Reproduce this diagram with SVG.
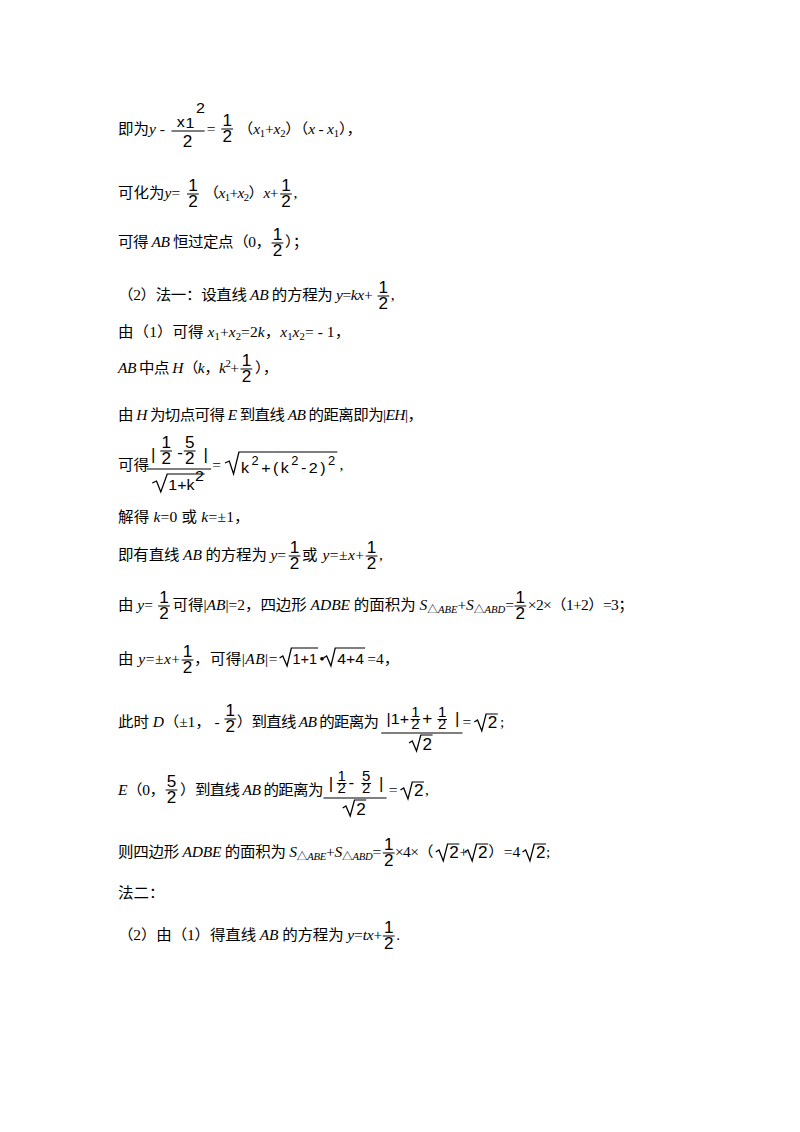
<svg xmlns="http://www.w3.org/2000/svg" xmlns:xlink="http://www.w3.org/1999/xlink" width="800" height="1132" viewBox="0 0 800 1132">
<style>
text{font-family:"Liberation Serif","Noto Sans CJK SC",serif;font-size:14.5px;fill:#000}
.i{font-style:italic}
.f{font-family:"Liberation Sans",sans-serif;font-size:16px;text-anchor:middle}
.fs{font-family:"Liberation Sans",sans-serif;font-size:14px;text-anchor:middle}
.s{font-size:10px}
.m{font-family:"Liberation Sans",sans-serif;font-size:15px}
.b{stroke:#000;stroke-width:1}
.r{stroke:#000;stroke-width:1.2;fill:none}
</style>
<defs>
<g id="h"><text class="f" x="0" y="-7">1</text><line class="b" x1="-5.5" y1="-4" x2="5.5" y2="-4"/><text class="f" x="0" y="9">2</text></g>
<g id="h5"><text class="f" x="0" y="-7">5</text><line class="b" x1="-5.5" y1="-4" x2="5.5" y2="-4"/><text class="f" x="0" y="9">2</text></g>
<g id="hs"><text class="fs" x="0" y="-6">1</text><line class="b" x1="-4.5" y1="-3.5" x2="4.5" y2="-3.5"/><text class="fs" x="0" y="6">2</text></g>
<g id="hs5"><text class="fs" x="0" y="-6">5</text><line class="b" x1="-4.5" y1="-3.5" x2="4.5" y2="-3.5"/><text class="fs" x="0" y="6">2</text></g>
</defs>
<rect width="800" height="1132" fill="#fff"/>
<g transform="matrix(1.07,0,0,1,-31.8,0)">
<g id="line1">
<text x="140" y="134">即为<tspan class="i">y</tspan> - </text>
<text class="m" x="195" y="127">x</text><text class="m" x="203" y="128" font-size="13">1</text><text class="m" x="213" y="113" font-size="12">2</text>
<line class="b" x1="190" y1="131" x2="221" y2="131"/>
<text class="f" x="205" y="147">2</text>
<text x="223" y="134">=</text>
<use xlink:href="#h" x="242" y="133"/>
<text x="252" y="134" textLength="116" lengthAdjust="spacing">（<tspan class="i">x</tspan><tspan class="s" dy="3">1</tspan><tspan dy="-3">+</tspan><tspan class="i">x</tspan><tspan class="s" dy="3">2</tspan><tspan dy="-3">）（</tspan><tspan class="i">x</tspan> - <tspan class="i">x</tspan><tspan class="s" dy="3">1</tspan><tspan dy="-3">），</tspan></text>
</g>

<g id="line2">
<text x="140" y="198">可化为<tspan class="i">y</tspan>=</text>
<use xlink:href="#h" x="210" y="198"/>
<text x="220" y="198" textLength="70" lengthAdjust="spacing">（<tspan class="i">x</tspan><tspan class="s" dy="3">1</tspan><tspan dy="-3">+</tspan><tspan class="i">x</tspan><tspan class="s" dy="3">2</tspan><tspan dy="-3">）</tspan><tspan class="i">x</tspan>+</text>
<use xlink:href="#h" x="297" y="198"/>
<text x="304" y="198">,</text>
</g>

<g id="line3">
<text x="140" y="247" textLength="143" lengthAdjust="spacing">可得 <tspan class="i">AB</tspan> 恒过定点（0，</text>
<use xlink:href="#h" x="289" y="247"/>
<text x="296" y="247">）；</text>
</g>

<g id="line4">
<text x="140" y="300" textLength="238" lengthAdjust="spacing">（2）法一：设直线 <tspan class="i">AB</tspan> 的方程为 <tspan class="i">y</tspan>=<tspan class="i">kx</tspan>+</text>
<use xlink:href="#h" x="388" y="300"/>
<text x="395" y="300">,</text>
</g>

<g id="line5">
<text x="140" y="337" textLength="217" lengthAdjust="spacing">由（1）可得 <tspan class="i">x</tspan><tspan class="s" dy="3">1</tspan><tspan dy="-3">+</tspan><tspan class="i">x</tspan><tspan class="s" dy="3">2</tspan><tspan dy="-3">=2</tspan><tspan class="i">k</tspan>，<tspan class="i">x</tspan><tspan class="s" dy="3">1</tspan><tspan class="i" dy="-3">x</tspan><tspan class="s" dy="3">2</tspan><tspan dy="-3">= - 1，</tspan></text>
</g>

<g id="line6">
<text x="140" y="373" textLength="113" lengthAdjust="spacing"><tspan class="i">AB</tspan> 中点 <tspan class="i">H</tspan>（<tspan class="i">k</tspan>，<tspan class="i">k</tspan><tspan class="s" dy="-6">2</tspan><tspan dy="6">+</tspan></text>
<use xlink:href="#h" x="260" y="373"/>
<text x="268" y="373">），</text>
</g>

<g id="line7">
<text x="140" y="420" textLength="285" lengthAdjust="spacing">由 <tspan class="i">H</tspan> 为切点可得 <tspan class="i">E</tspan> 到直线 <tspan class="i">AB</tspan> 的距离即为|<tspan class="i">EH</tspan>|，</text>
</g>

<g id="line8">
<text x="140" y="470">可得</text>
<line class="b" x1="167" y1="469" x2="227" y2="469"/>
<text class="f" x="173" y="460">|</text>
<use xlink:href="#h" x="185" y="455"/>
<text class="f" x="198" y="458">-</text>
<use xlink:href="#h5" x="207" y="455"/>
<text class="f" x="222" y="460">|</text>
<path class="r" d="M172,483 L176,481 L180,492 L186,474 L221,474"/>
<text class="m" x="187" y="490">1+k</text><text class="m" x="212" y="481" font-size="12">2</text>
<text x="228" y="470">=</text>
<path class="r" d="M240,463 L244,461 L248,474 L253,452 L345,452"/>
<text class="m" x="255" y="473" textLength="88" lengthAdjust="spacing">k<tspan font-size="12" dy="-8">2</tspan><tspan dy="8">+(k</tspan><tspan font-size="12" dy="-8">2</tspan><tspan dy="8">-2)</tspan><tspan font-size="12" dy="-8">2</tspan></text>
<text x="347" y="470">,</text>
</g>

<g id="line9">
<text x="140" y="522" textLength="123" lengthAdjust="spacing">解得 <tspan class="i">k</tspan>=0 或 <tspan class="i">k</tspan>=±1，</text>
</g>

<g id="line10">
<text x="140" y="560" textLength="157" lengthAdjust="spacing">即有直线 <tspan class="i">AB</tspan> 的方程为 <tspan class="i">y</tspan>=</text>
<use xlink:href="#h" x="305" y="560"/>
<text x="312" y="560" textLength="58" lengthAdjust="spacing">或 <tspan class="i">y</tspan>=±<tspan class="i">x</tspan>+</text>
<use xlink:href="#h" x="377" y="560"/>
<text x="384" y="560">,</text>
</g>

<g id="line11">
<text x="140" y="610">由 <tspan class="i">y</tspan>=</text>
<use xlink:href="#h" x="183" y="610"/>
<text x="191" y="610" textLength="319" lengthAdjust="spacing">可得|<tspan class="i">AB</tspan>|=2，四边形 <tspan class="i">ADBE</tspan> 的面积为 <tspan class="i">S</tspan><tspan class="s" dy="3">△<tspan class="i">ABE</tspan></tspan><tspan dy="-3">+</tspan><tspan class="i">S</tspan><tspan class="s" dy="3">△<tspan class="i">ABD</tspan></tspan><tspan dy="-3">=</tspan></text>
<use xlink:href="#h" x="516" y="610"/>
<text x="523" y="610" textLength="99" lengthAdjust="spacing">×2×（1+2）=3；</text>
</g>

<g id="line12">
<text x="140" y="664" textLength="58" lengthAdjust="spacing">由 <tspan class="i">y</tspan>=±<tspan class="i">x</tspan>+</text>
<use xlink:href="#h" x="205" y="664"/>
<text x="211" y="664" textLength="78" lengthAdjust="spacing">，可得|<tspan class="i">AB</tspan>|=</text>
<path class="r" d="M291,658 L294,656 L298,666 L302,648 L327,648"/>
<text class="m" x="303" y="664" textLength="23" lengthAdjust="spacingAndGlyphs">1+1</text>
<text x="328" y="664">•</text>
<path class="r" d="M332,658 L335,656 L339,666 L343,648 L371,648"/>
<text class="m" x="345" y="664" textLength="25" lengthAdjust="spacingAndGlyphs">4+4</text>
<text x="373" y="664">=4，</text>
</g>

<g id="line13">
<text x="140" y="727" textLength="95" lengthAdjust="spacing">此时 <tspan class="i">D</tspan>（±1， -</text>
<use xlink:href="#h" x="245" y="723"/>
<text x="251" y="727" textLength="133" lengthAdjust="spacing">）到直线 <tspan class="i">AB</tspan> 的距离为</text>
<line class="b" x1="386" y1="733" x2="462" y2="733"/>
<text class="m" x="391" y="724" font-size="16">|1+</text>
<use xlink:href="#hs" x="418" y="723"/>
<text class="f" x="429" y="724">+</text>
<use xlink:href="#hs" x="443" y="723"/>
<text class="f" x="457" y="724">|</text>
<path class="r" d="M412,743 L415,741 L419,751 L423,735 L434,735"/>
<text class="f" x="429" y="750">2</text>
<text x="462" y="727">=</text>
<path class="r" d="M473,722 L476,720 L480,731 L484,714 L495,714"/>
<text class="f" x="490" y="728">2</text>
<text x="497" y="727">;</text>
</g>

<g id="line14">
<text x="140" y="795" textLength="44" lengthAdjust="spacing"><tspan class="i">E</tspan>（0，</text>
<use xlink:href="#h5" x="190" y="794"/>
<text x="198" y="795" textLength="134" lengthAdjust="spacing">）到直线 <tspan class="i">AB</tspan> 的距离为</text>
<line class="b" x1="332" y1="798" x2="391" y2="798"/>
<text class="f" x="339" y="789">|</text>
<use xlink:href="#hs" x="349" y="787"/>
<text class="f" x="358" y="788">-</text>
<use xlink:href="#hs5" x="372" y="787"/>
<text class="f" x="386" y="789">|</text>
<path class="r" d="M350,808 L353,806 L357,816 L361,800 L372,800"/>
<text class="f" x="367" y="815">2</text>
<text x="393" y="795">=</text>
<path class="r" d="M404,790 L407,788 L411,799 L415,782 L426,782"/>
<text class="f" x="421" y="796">2</text>
<text x="427" y="795">,</text>
</g>

<g id="line15">
<text x="140" y="857" textLength="246" lengthAdjust="spacing">则四边形 <tspan class="i">ADBE</tspan> 的面积为 <tspan class="i">S</tspan><tspan class="s" dy="3">△<tspan class="i">ABE</tspan></tspan><tspan dy="-3">+</tspan><tspan class="i">S</tspan><tspan class="s" dy="3">△<tspan class="i">ABD</tspan></tspan><tspan dy="-3">=</tspan></text>
<use xlink:href="#h" x="393" y="857"/>
<text x="399" y="857" textLength="36" lengthAdjust="spacing">×4×（</text>
<path class="r" d="M437,852 L440,850 L444,861 L448,844 L459,844"/>
<text class="f" x="454" y="858">2</text>
<text x="459" y="857">+</text>
<path class="r" d="M464,852 L467,850 L471,861 L475,844 L486,844"/>
<text class="f" x="481" y="858">2</text>
<text x="486" y="857">）=4</text>
<path class="r" d="M518,852 L521,850 L525,861 L529,844 L540,844"/>
<text class="f" x="535" y="858">2</text>
<text x="540" y="857">;</text>
</g>

<g id="line16">
<text x="140" y="898">法二：</text>
</g>

<g id="line17">
<text x="140" y="940" textLength="247" lengthAdjust="spacing">（2）由（1）得直线 <tspan class="i">AB</tspan> 的方程为 <tspan class="i">y</tspan>=<tspan class="i">tx</tspan>+</text>
<use xlink:href="#h" x="393" y="940"/>
<text x="400" y="940">.</text>
</g>
</g>
</svg>
